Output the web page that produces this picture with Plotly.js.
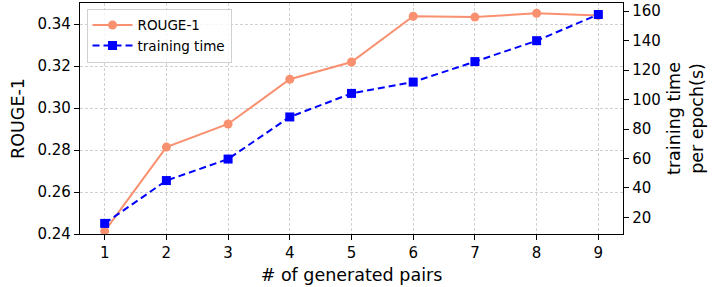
<!DOCTYPE html>
<html>
<head>
<meta charset="utf-8">
<script src="https://cdn.plot.ly/plotly-3.0.1.min.js"></script>
<style>html,body{margin:0;padding:0;background:#fff;}#chart{width:718px;height:287px;}</style>
</head>
<body>
<div id="chart"></div>
<script>
const pairs = [1, 2, 3, 4, 5, 6, 7, 8, 9];
const rouge1 = [0.2414, 0.2814, 0.2924, 0.3137, 0.3219, 0.3437, 0.3433, 0.3451, 0.3441];
const trainTime = [15.9, 45.0, 59.6, 88.2, 104.2, 111.9, 125.8, 140.0, 157.8];
const xTicks = [1, 2, 3, 4, 5, 6, 7, 8, 9];
const yTicks = [0.24, 0.26, 0.28, 0.30, 0.32, 0.34];
const y2Ticks = [20, 40, 60, 80, 100, 120, 140, 160];

const salmon = '#F9906F';
const font = 'DejaVu Sans, sans-serif';

const traces = [
  {
    x: pairs, y: rouge1, name: 'ROUGE-1', type: 'scatter', mode: 'lines+markers',
    line: {color: salmon, width: 2}, marker: {color: salmon, size: 9, symbol: 'circle'},
    yaxis: 'y'
  },
  {
    x: pairs, y: trainTime, name: 'training time', type: 'scatter', mode: 'lines+markers',
    line: {color: '#0000FF', width: 2, dash: '7px,4px'}, marker: {color: '#0000FF', size: 9, symbol: 'square'},
    yaxis: 'y2'
  }
];

const layout = {
  width: 718, height: 287,
  margin: {l: 80, r: 95, t: 3, b: 53},
  paper_bgcolor: '#fff', plot_bgcolor: '#fff',
  font: {family: font, color: '#000', size: 15},
  showlegend: true,
  legend: {
    x: 0.012, y: 0.975, xanchor: 'left', yanchor: 'top',
    bgcolor: 'rgba(255,255,255,0.8)', bordercolor: '#d0d0d0', borderwidth: 1,
    font: {family: font, size: 13.5, color: '#000'},
    tracegroupgap: 2, itemwidth: 40
  },
  xaxis: {
    range: [0.6, 9.4], tickvals: xTicks, ticktext: xTicks.map(String),
    showline: true, linecolor: '#000', linewidth: 1.2, mirror: true,
    ticks: 'outside', ticklen: 5, tickwidth: 1, tickcolor: '#000',
    showgrid: true, gridcolor: '#c4c4c4', griddash: '3px,2px', gridwidth: 0.8,
    zeroline: false, tickfont: {size: 15},
    title: {text: '# of generated pairs', font: {size: 17.5}, standoff: 7}
  },
  yaxis: {
    range: [0.24, 0.35], tickvals: yTicks, ticktext: yTicks.map(v => v.toFixed(2)),
    showline: true, linecolor: '#000', linewidth: 1.2, mirror: true,
    ticks: 'outside', ticklen: 5, tickwidth: 1, tickcolor: '#000',
    showgrid: true, gridcolor: '#c4c4c4', griddash: '3px,2px', gridwidth: 0.8,
    zeroline: false, tickfont: {size: 15},
    title: {text: 'ROUGE-1', font: {size: 17.5}, standoff: 8}
  },
  yaxis2: {
    overlaying: 'y', side: 'right', range: [8.7, 165.6],
    tickvals: y2Ticks, ticktext: y2Ticks.map(String),
    showline: true, linecolor: '#000', linewidth: 1.2,
    ticks: 'outside', ticklen: 5, tickwidth: 1, tickcolor: '#000',
    showgrid: false, zeroline: false, tickfont: {size: 15},
    title: {text: 'training time<br>per epoch(s)', font: {size: 17.5}, standoff: 8}
  }
};

Plotly.newPlot('chart', traces, layout, {displayModeBar: false, staticPlot: true});
</script>
</body>
</html>
